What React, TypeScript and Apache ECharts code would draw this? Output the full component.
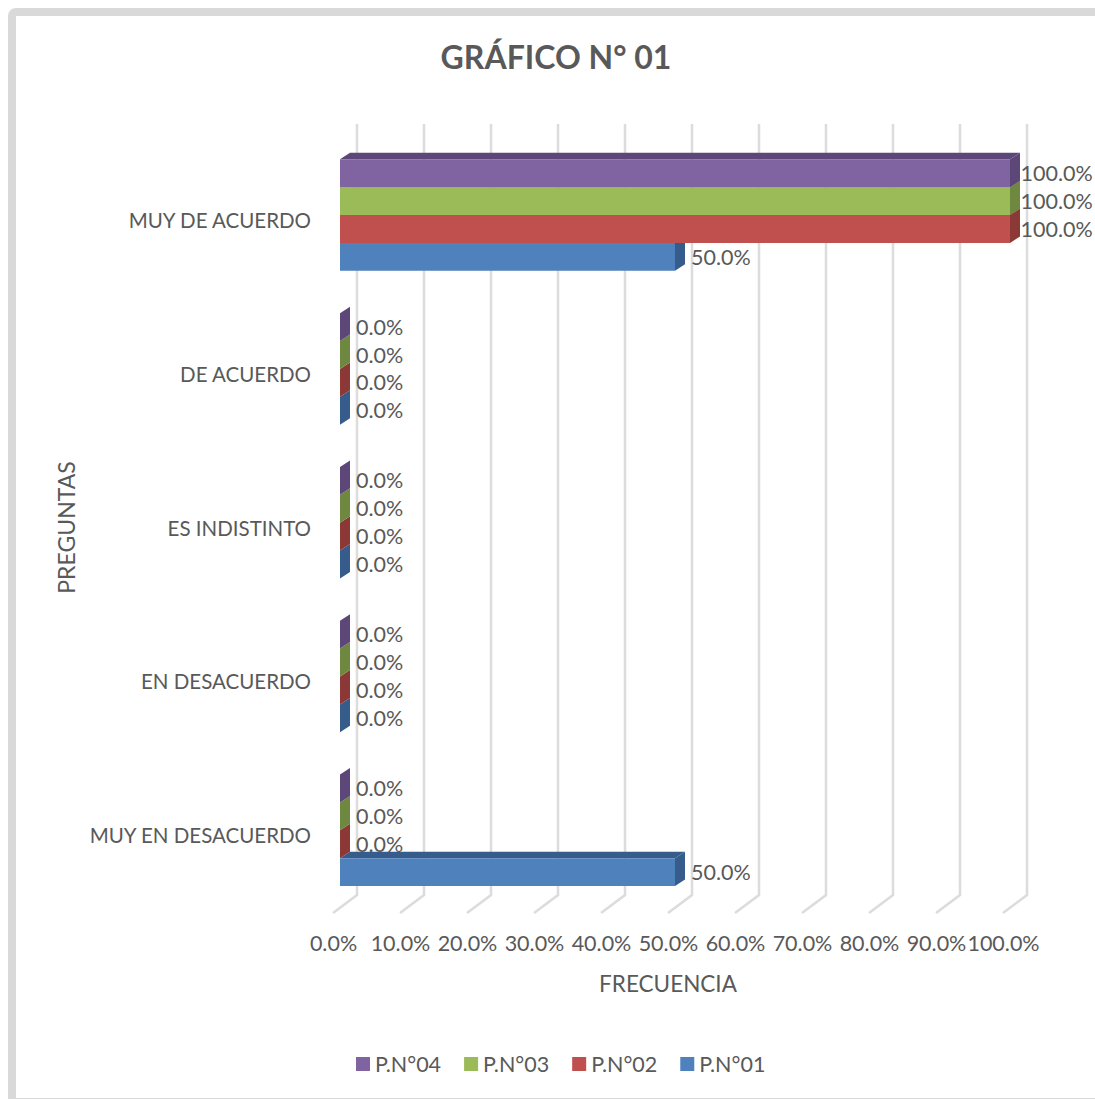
import React, { useEffect, useRef } from "react";
import * as echarts from "echarts";

const categories = ["MUY EN DESACUERDO", "EN DESACUERDO", "ES INDISTINTO", "DE ACUERDO", "MUY DE ACUERDO"];
const seriesNames = ["P.N°01", "P.N°02", "P.N°03", "P.N°04"];
const pn01 = [50, 0, 0, 0, 50];
const pn02 = [0, 0, 0, 0, 100];
const pn03 = [0, 0, 0, 0, 100];
const pn04 = [0, 0, 0, 0, 100];
const ticks = [0, 10, 20, 30, 40, 50, 60, 70, 80, 90, 100];
const frontColors = ["#4F81BD", "#C0504D", "#9BBB59", "#8064A2"];
const darkColors = ["#355C8A", "#8C3836", "#6E8840", "#5C4778"];
const legendOrder = ["P.N°04", "P.N°03", "P.N°02", "P.N°01"];

const FONT = "Lato";
const TEXT = "#595959";
const DX = 10;
const DY = -6.5;
const BAR_RATIO = 0.1813;
const SHIFT = -4.8;

export default function App() {
  const ref = useRef<HTMLDivElement>(null);
  useEffect(() => {
    document.body.style.margin = "0";
    const chart = echarts.init(ref.current!, null, { renderer: "svg" });
    const all = [pn01, pn02, pn03, pn04];

    const barTop = (api: any, cat: number, idx: number) => {
      const h = api.size([0, 1])[1] * BAR_RATIO;
      const c = api.coord([0, cat])[1] + SHIFT;
      return { y: c + 2 * h - (idx + 1) * h, h };
    };

    const gridSeries: any = {
      type: "custom",
      silent: true,
      z: 1,
      data: ticks.map((t) => [t, 0]),
      encode: { x: 0, y: 1 },
      renderItem: (p: any, api: any) => {
        const x = api.coord([api.value(0), 0])[0];
        const top = p.coordSys.y - 19;
        const bottom = p.coordSys.y + p.coordSys.height - 17;
        return {
          type: "polyline",
          shape: { points: [[x + 17, top], [x + 17, bottom], [x - 7, bottom + 18]] },
          style: { stroke: "#DCDCDC", lineWidth: 2.5, fill: "none" },
        };
      },
    };

    const labelSeries = all.map((vals, idx) => ({
      type: "custom",
      silent: true,
      z: 2,
      data: vals.map((v, c) => [v, c]),
      encode: { x: 0, y: 1 },
      renderItem: (_p: any, api: any) => {
        const v = api.value(0);
        const c = api.value(1);
        const x = api.coord([v, c])[0];
        const { y, h } = barTop(api, c, idx);
        return {
          type: "text",
          x: Math.min(x + 16, 1020.5),
          y: y + h / 2 - 0.4,
          style: { text: `${v.toFixed(1)}%`, fill: TEXT, fontSize: 21.5, fontFamily: FONT, align: "left", verticalAlign: "middle" },
        };
      },
    }));

    const barSeries = all.map((vals, idx) => ({
      type: "custom",
      name: seriesNames[idx],
      silent: true,
      z: 3,
      itemStyle: { color: frontColors[idx] },
      data: vals.map((v, c) => [v, c]),
      encode: { x: 0, y: 1 },
      renderItem: (_p: any, api: any) => {
        const v = api.value(0);
        const c = api.value(1);
        const x0 = api.coord([0, c])[0];
        const x1 = api.coord([v, c])[0];
        const { y, h } = barTop(api, c, idx);
        const children: any[] = [
          {
            type: "polygon",
            shape: { points: [[x0, y], [x0 + DX, y + DY], [x1 + DX, y + DY], [x1, y]] },
            style: { fill: darkColors[idx] },
          },
          {
            type: "polygon",
            shape: { points: [[x1, y], [x1 + DX, y + DY], [x1 + DX, y + h + DY], [x1, y + h]] },
            style: { fill: darkColors[idx] },
          },
        ];
        if (x1 > x0) {
          children.push({
            type: "rect",
            shape: { x: x0, y, width: x1 - x0, height: h },
            style: { fill: frontColors[idx] },
          });
        }
        return { type: "group", children };
      },
    }));

    chart.setOption({
      animation: false,
      backgroundColor: "#FFFFFF",
      title: {
        text: "GRÁFICO N° 01",
        left: 551,
        top: 35,
        textAlign: "center",
        textStyle: { color: TEXT, fontFamily: FONT, fontWeight: "bold", fontSize: 32 },
      },
      legend: {
        data: legendOrder,
        left: 351,
        top: 1048,
        icon: "rect",
        itemWidth: 14,
        itemHeight: 14,
        itemGap: 23,
        selectedMode: false,
        textStyle: { color: TEXT, fontFamily: FONT, fontSize: 21.5 },
      },
      grid: { left: 340, top: 143, width: 670, height: 769 },
      xAxis: {
        type: "value",
        min: 0,
        max: 100,
        interval: 10,
        splitLine: { show: false },
        axisLine: { show: false },
        axisTick: { show: false },
        axisLabel: {
          formatter: (v: number) => `${v.toFixed(1)}%`,
          color: TEXT,
          fontFamily: FONT,
          fontSize: 21.5,
          margin: 20,
          padding: [0, 13, 0, 0],
        },
        name: "FRECUENCIA",
        nameLocation: "middle",
        nameGap: 60,
        nameTextStyle: { color: TEXT, fontFamily: FONT, fontSize: 22.5, padding: [0, 14, 0, 0] },
      },
      yAxis: {
        type: "category",
        data: categories,
        axisLine: { show: false },
        axisTick: { show: false },
        axisLabel: { color: TEXT, fontFamily: FONT, fontSize: 20.5, margin: 29 },
        name: "PREGUNTAS",
        nameLocation: "middle",
        nameGap: 262,
        nameRotate: 90,
        nameTextStyle: { color: TEXT, fontFamily: FONT, fontSize: 23 },
      },
      graphic: [
        {
          type: "rect",
          silent: true,
          z: -1,
          shape: { x: 12, y: 12, width: 1200, height: 1090, r: 4 },
          style: { fill: "none", stroke: "#D9D9D9", lineWidth: 8 },
        },
      ],
      series: [gridSeries, ...labelSeries, ...barSeries],
    });
    return () => chart.dispose();
  }, []);
  return <div ref={ref} style={{ position: "absolute", left: 0, top: 0, width: 1095, height: 1099, overflow: "hidden" }} />;
}
